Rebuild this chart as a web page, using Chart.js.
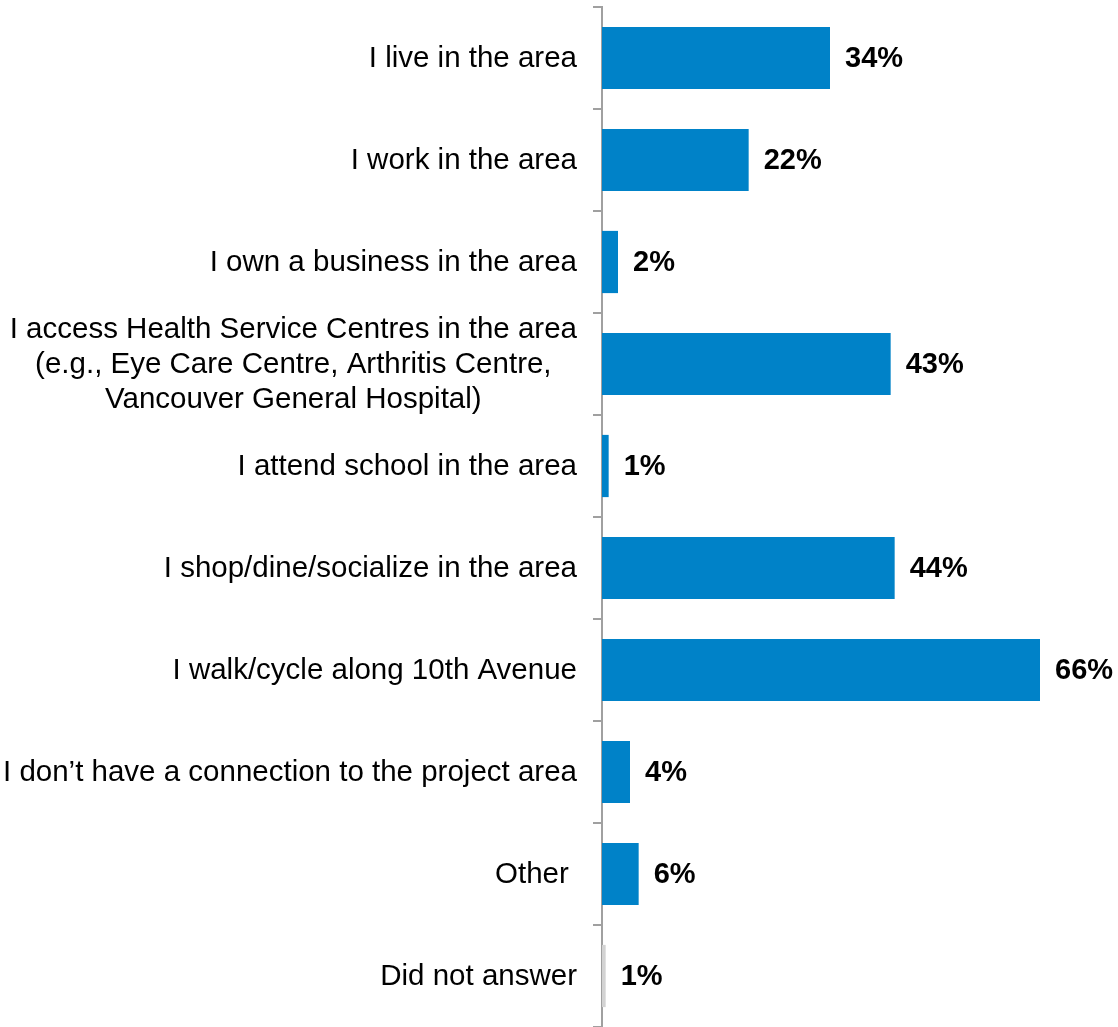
<!DOCTYPE html>
<html>
<head>
<meta charset="utf-8">
<script src="https://cdn.jsdelivr.net/npm/chart.js@4"></script>
<style>
  html, body { margin: 0; padding: 0; background: #fff; }
  #wrap { width: 1118px; height: 1027px; position: relative; }
</style>
</head>
<body>
<div id="wrap"><canvas id="c"></canvas></div>
<script>
const categories = [
  'I live in the area',
  'I work in the area',
  'I own a business in the area',
  ['I access Health Service Centres in the area', '(e.g., Eye Care Centre, Arthritis Centre,', 'Vancouver General Hospital)'],
  'I attend school in the area',
  'I shop/dine/socialize in the area',
  'I walk/cycle along 10th Avenue',
  'I don\u2019t have a connection to the project area',
  'Other ',
  'Did not answer'
];
const values = [34.2, 22, 2.4, 43.3, 1, 43.9, 65.7, 4.2, 5.5, 0.55];
const valueLabels = ['34%', '22%', '2%', '43%', '1%', '44%', '66%', '4%', '6%', '1%'];
const barColors = ['#0082C8', '#0082C8', '#0082C8', '#0082C8', '#0082C8', '#0082C8', '#0082C8', '#0082C8', '#0082C8', '#D3D3D3'];

const FONT = '"Liberation Sans", Arial, sans-serif';
const AXIS_LEFT = 602;

const catLabelPlugin = {
  id: 'catLabels',
  afterDraw(chart) {
    const ctx = chart.ctx;
    const y = chart.scales.y;
    const right = AXIS_LEFT - 25;
    ctx.save();
    ctx.font = '29.5px ' + FONT;
    ctx.fillStyle = '#000';
    ctx.textBaseline = 'middle';
    categories.forEach((lab, i) => {
      const cy = y.getPixelForValue(i);
      const lines = Array.isArray(lab) ? lab : [lab];
      const widths = lines.map(l => ctx.measureText(l).width);
      const maxW = Math.max(...widths);
      const lh = 35;
      const startY = cy + 1 - (lines.length - 1) * lh / 2;
      ctx.textAlign = 'center';
      lines.forEach((l, k) => {
        ctx.fillText(l, right - maxW / 2, startY + k * lh);
      });
    });
    ctx.restore();
  }
};

const valueLabelPlugin = {
  id: 'valueLabels',
  afterDatasetsDraw(chart) {
    const ctx = chart.ctx;
    const meta = chart.getDatasetMeta(0);
    ctx.save();
    ctx.font = 'bold 29px ' + FONT;
    ctx.fillStyle = '#000';
    ctx.textAlign = 'left';
    ctx.textBaseline = 'middle';
    meta.data.forEach((bar, i) => {
      ctx.fillText(valueLabels[i], bar.x + 15, bar.y + 1);
    });
    ctx.restore();
  }
};

new Chart(document.getElementById('c'), {
  type: 'bar',
  data: {
    labels: categories,
    datasets: [{
      data: values,
      backgroundColor: barColors,
      borderWidth: 0,
      barPercentage: 0.61,
      categoryPercentage: 1.0
    }]
  },
  options: {
    indexAxis: 'y',
    responsive: true,
    maintainAspectRatio: false,
    animation: false,
    layout: { padding: { top: 7, right: 16, bottom: 0, left: 0 } },
    plugins: {
      legend: { display: false },
      tooltip: { enabled: false },
      title: { display: false }
    },
    scales: {
      x: {
        display: false,
        min: 0,
        max: 75
      },
      y: {
        offset: true,
        grid: {
          offset: true,
          drawOnChartArea: false,
          drawTicks: true,
          tickLength: 9,
          color: '#A0A0A0',
          lineWidth: 2
        },
        border: { display: true, color: '#A0A0A0', width: 2 },
        ticks: {
          display: false
        },
        afterFit(scale) { scale.width = AXIS_LEFT; scale.paddingTop = 0; scale.paddingBottom = 0; }
      }
    }
  },
  plugins: [catLabelPlugin, valueLabelPlugin]
});
</script>
</body>
</html>
